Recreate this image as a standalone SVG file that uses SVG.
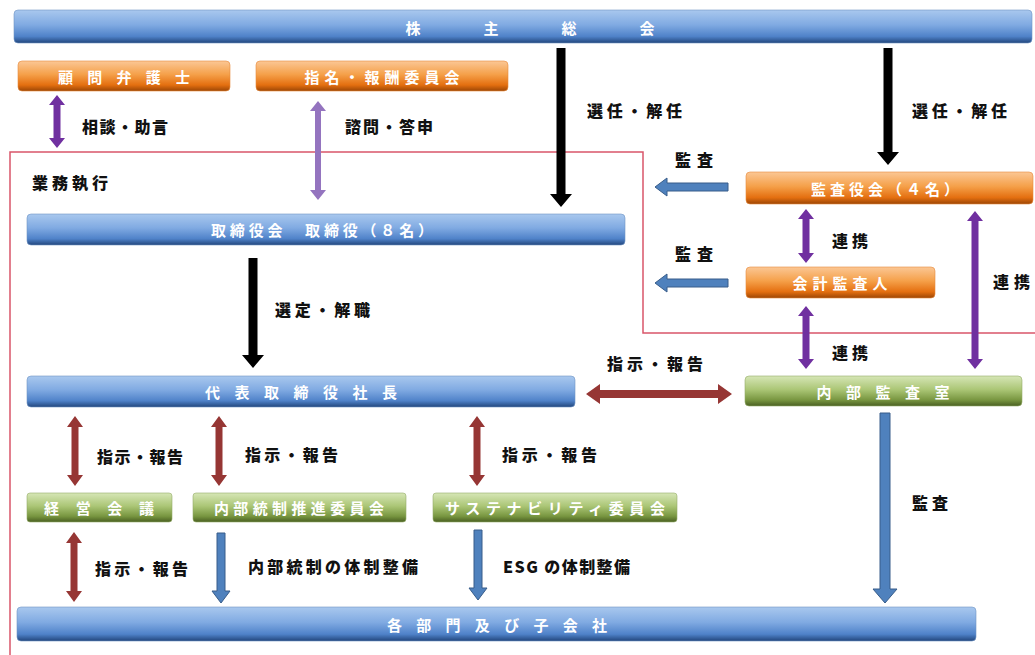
<svg xmlns="http://www.w3.org/2000/svg" width="1035" height="655" viewBox="0 0 1035 655">
<defs>
<linearGradient id="gBlue" x1="0" y1="0" x2="0" y2="1">
<stop offset="0" stop-color="#a9c8ee"/>
<stop offset="0.45" stop-color="#80aae2"/>
<stop offset="0.8" stop-color="#4f82c9"/>
<stop offset="1" stop-color="#22467c"/>
</linearGradient>
<linearGradient id="gOrange" x1="0" y1="0" x2="0" y2="1">
<stop offset="0" stop-color="#fbc795"/>
<stop offset="0.45" stop-color="#f5a049"/>
<stop offset="0.8" stop-color="#e46f10"/>
<stop offset="1" stop-color="#9c4605"/>
</linearGradient>
<linearGradient id="gGreen" x1="0" y1="0" x2="0" y2="1">
<stop offset="0" stop-color="#d6e6b6"/>
<stop offset="0.45" stop-color="#abc676"/>
<stop offset="0.8" stop-color="#789640"/>
<stop offset="1" stop-color="#4a6022"/>
</linearGradient>
<style>
.bar{fill:url(#gBlue);stroke:#6f94c4;stroke-width:0.6}
.org{fill:url(#gOrange);stroke:#e58a3c;stroke-width:0.6}
.grn{fill:url(#gGreen);stroke:#95ad6a;stroke-width:0.6}
.bt{font-family:"Noto Sans CJK JP","Noto Sans CJK SC",sans-serif;font-weight:bold;font-size:15px;fill:#ffffff;text-anchor:middle;dominant-baseline:central}
.lb{font-family:"Noto Sans CJK JP","Noto Sans CJK SC",sans-serif;font-weight:900;font-size:16px;fill:#111111}
.blk{fill:#000000}
.pur{fill:#7030a0}
.pul{fill:#9474bf}
.red{fill:#963634}
.blu{fill:#4f81bd;stroke:#385d8a;stroke-width:1}
.frame{fill:none;stroke:#d9556a;stroke-width:1.5}
</style>
</defs>
<rect width="1035" height="655" fill="#ffffff"/>
<path class="frame" d="M10,655 V152 H643 V333 H1035"/>

<g id="kabunushi-sokai">
<rect class="bar" x="14" y="10" width="1018" height="33" rx="4"/>
<text class="bt" x="413" y="27">株</text>
<text class="bt" x="491" y="27">主</text>
<text class="bt" x="569" y="27">総</text>
<text class="bt" x="647" y="27">会</text>
</g>
<g id="komon-bengoshi">
<rect class="org" x="18" y="61" width="212" height="30" rx="4"/>
<text class="bt" x="124" y="76" textLength="132" lengthAdjust="spacing">顧問弁護士</text>
</g>
<g id="shimei-hoshu">
<rect class="org" x="256" y="61" width="252" height="30" rx="4"/>
<text class="bt" x="382" y="76" textLength="155" lengthAdjust="spacing">指名・報酬委員会</text>
</g>
<g id="torishimariyakukai">
<rect class="bar" x="27" y="214" width="598" height="31" rx="4"/>
<text class="bt" x="322" y="229.5" textLength="222" lengthAdjust="spacing">取締役会　取締役（８名）</text>
</g>
<g id="kansayakukai">
<rect class="org" x="746" y="172" width="287" height="32" rx="4"/>
<text class="bt" x="885" y="188" textLength="148" lengthAdjust="spacing">監査役会（４名）</text>
</g>
<g id="kaikei-kansanin">
<rect class="org" x="746" y="267" width="189" height="31" rx="4"/>
<text class="bt" x="840" y="282.5" textLength="95" lengthAdjust="spacing">会計監査人</text>
</g>
<g id="daihyo">
<rect class="bar" x="27" y="376" width="548" height="31" rx="4"/>
<text class="bt" x="301" y="391.5" textLength="192" lengthAdjust="spacing">代表取締役社長</text>
</g>
<g id="naibu-kansashitsu">
<rect class="grn" x="745" y="376" width="277" height="30" rx="4"/>
<text class="bt" x="883" y="391" textLength="133" lengthAdjust="spacing">内部監査室</text>
</g>
<g id="keiei-kaigi">
<rect class="grn" x="27" y="493" width="145" height="29" rx="3"/>
<text class="bt" x="99" y="507.5" textLength="110" lengthAdjust="spacing">経営会議</text>
</g>
<g id="naibu-tosei">
<rect class="grn" x="193" y="493" width="213" height="29" rx="3"/>
<text class="bt" x="299" y="507.5" textLength="170" lengthAdjust="spacing">内部統制推進委員会</text>
</g>
<g id="sustainability">
<rect class="grn" x="433" y="493" width="244" height="29" rx="3"/>
<text class="bt" x="555" y="507.5" textLength="220" lengthAdjust="spacing">サステナビリティ委員会</text>
</g>
<g id="kakubumon">
<rect class="bar" x="17" y="607" width="959" height="34" rx="4"/>
<text class="bt" x="497" y="624" textLength="220" lengthAdjust="spacing">各部門及び子会社</text>
</g>

<g id="connectors">
<polygon class="blk" points="556.5,48 565.5,48 565.5,194 572,194 561,207 550,194 556.5,194"/>
<polygon class="blk" points="883.5,48 892.5,48 892.5,152 899,152 888,165 877,152 883.5,152"/>
<polygon class="blk" points="248.5,258 257.5,258 257.5,355 264,355 253,368 242,355 248.5,355"/>
<polygon class="pur" points="49,105 57,95 65,105 60.5,105 60.5,138 65,138 57,148 49,138 53.5,138 53.5,105"/>
<polygon class="pul" points="310,111 318,101 326,111 321,111 321,190 326,190 318,200 310,190 315,190 315,111"/>
<polygon class="pur" points="798,219 806,209 814,219 809.5,219 809.5,253 814,253 806,263 798,253 802.5,253 802.5,219"/>
<polygon class="pur" points="798,316 806,306 814,316 809.5,316 809.5,359 814,359 806,369 798,359 802.5,359 802.5,316"/>
<polygon class="pur" points="967,221 975,211 983,221 978.5,221 978.5,359 983,359 975,369 967,359 971.5,359 971.5,221"/>
<polygon class="blu" points="728,183 667,183 667,178 655,187 667,196 667,191 728,191"/>
<polygon class="blu" points="728,279 667,279 667,274 655,283 667,292 667,287 728,287"/>
<polygon class="red" points="586,394 600,384 600,390 718,390 718,384 732,394 718,404 718,398 600,398 600,404"/>
<polygon class="red" points="67,427 75,416 83,427 78.5,427 78.5,475 83,475 75,486 67,475 71.5,475 71.5,427"/>
<polygon class="red" points="211,427 219,416 227,427 222.5,427 222.5,475 227,475 219,486 211,475 215.5,475 215.5,427"/>
<polygon class="red" points="469,427 477,416 485,427 480.5,427 480.5,475 485,475 477,486 469,475 473.5,475 473.5,427"/>
<polygon class="red" points="66,543 74,532 82,543 77.5,543 77.5,591 82,591 74,602 66,591 70.5,591 70.5,543"/>
<polygon class="blu" points="217,533 225,533 225,591 230,591 221,603 212,591 217,591"/>
<polygon class="blu" points="474,530 482,530 482,588 487,588 478,600 469,588 474,588"/>
<polygon class="blu" points="880,413 890,413 890,589 897,589 885,603 873,589 880,589"/>

<text class="lb" x="82" y="133" textLength="86" lengthAdjust="spacing">相談・助言</text>
<text class="lb" x="345" y="133" textLength="88" lengthAdjust="spacing">諮問・答申</text>
<text class="lb" x="587" y="117" textLength="95" lengthAdjust="spacing">選任・解任</text>
<text class="lb" x="912" y="117" textLength="95" lengthAdjust="spacing">選任・解任</text>
<text class="lb" x="675" y="166" textLength="38" lengthAdjust="spacing">監査</text>
<text class="lb" x="675" y="260" textLength="38" lengthAdjust="spacing">監査</text>
<text class="lb" x="32" y="189" textLength="76" lengthAdjust="spacing">業務執行</text>
<text class="lb" x="275" y="316" textLength="95" lengthAdjust="spacing">選定・解職</text>
<text class="lb" x="832" y="247" textLength="36" lengthAdjust="spacing">連携</text>
<text class="lb" x="993" y="288" textLength="37" lengthAdjust="spacing">連携</text>
<text class="lb" x="832" y="359" textLength="36" lengthAdjust="spacing">連携</text>
<text class="lb" x="607" y="370" textLength="96" lengthAdjust="spacing">指示・報告</text>
<text class="lb" x="97" y="463" textLength="86" lengthAdjust="spacing">指示・報告</text>
<text class="lb" x="245" y="461" textLength="93" lengthAdjust="spacing">指示・報告</text>
<text class="lb" x="502" y="461" textLength="95" lengthAdjust="spacing">指示・報告</text>
<text class="lb" x="912" y="509" textLength="36" lengthAdjust="spacing">監査</text>
<text class="lb" x="95" y="575" textLength="93" lengthAdjust="spacing">指示・報告</text>
<text class="lb" x="248" y="573" textLength="170" lengthAdjust="spacing">内部統制の体制整備</text>
<text class="lb" x="503" y="573" textLength="127" lengthAdjust="spacing">ESG の体制整備</text>
</g>
</svg>
